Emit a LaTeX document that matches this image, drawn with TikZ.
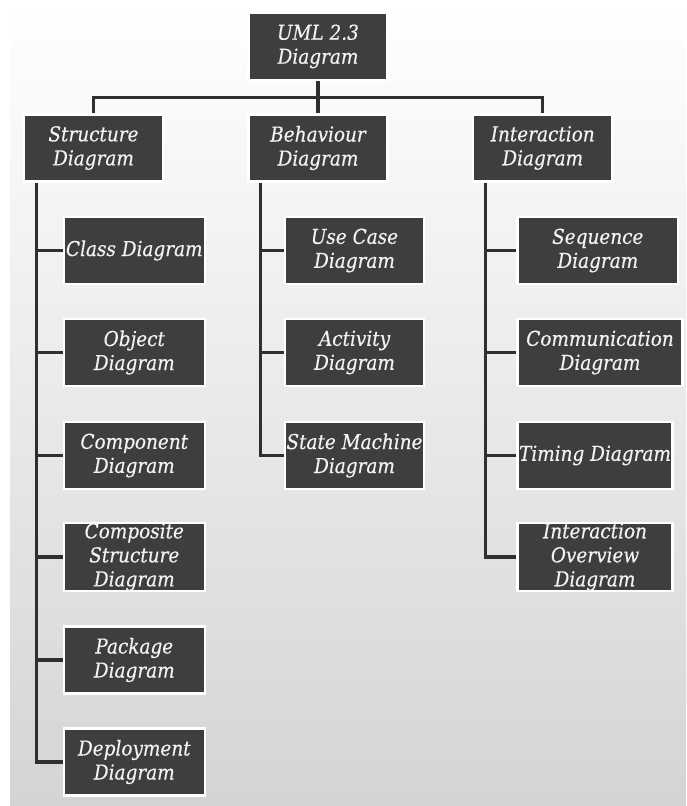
\documentclass[tikz,border=0pt]{standalone}
\usepackage{fontspec}
\setmainfont{DejaVu Serif}[FakeStretch=0.9, FakeBold=0.4]
\usetikzlibrary{positioning}
\definecolor{boxgray}{HTML}{3E3E3E}
\definecolor{boxtext}{HTML}{F2F2F2}
\definecolor{wire}{HTML}{2F2F2F}
\definecolor{bgbottom}{HTML}{D4D4D4}
\tikzset{
  umlbox/.style={draw=white, line width=2.4pt, fill=boxgray, text=boxtext,
    font=\itshape\fontsize{20.5}{24}\selectfont, align=center, inner sep=0pt,
    minimum height=67pt, minimum width=#1},
  umlbox/.default=139pt,
  wireline/.style={draw=wire, line width=3.2pt, line join=miter}
}
\begin{document}
\begin{tikzpicture}[x=1pt, y=-1pt]
  % page and shaded backdrop
  \useasboundingbox (0,0) rectangle (686,806);
  \fill[white] (0,0) rectangle (686,806);
  \shade[top color=white, bottom color=bgbottom] (10,0) rectangle (686,806);

  % root and the three families
  \node[umlbox] (uml) at (318,46.4) {UML 2.3\\Diagram};
  \node[umlbox] (str) at (93.5,148) {Structure\\Diagram};
  \node[umlbox] (beh) at (318,148) {Behaviour\\Diagram};
  \node[umlbox] (int) at (542.7,148) {Interaction\\Diagram};

  % structure diagrams
  \node[umlbox=141pt] (cls) at (134.3,250.5) {Class Diagram};
  \node[umlbox=141pt] (obj) at (134.3,352.5) {Object\\Diagram};
  \node[umlbox=141pt] (cmp) at (134.3,455.5) {Component\\Diagram};
  \node[umlbox=141pt] (cst) at (134.3,557) {Composite\\Structure\\Diagram};
  \node[umlbox=141pt] (pkg) at (134.3,660) {Package\\Diagram};
  \node[umlbox=141pt] (dep) at (134.3,762) {Deployment\\Diagram};

  % behaviour diagrams
  \node[umlbox] (ucd) at (354.5,250.5) {Use Case\\Diagram};
  \node[umlbox] (act) at (354.5,352.5) {Activity\\Diagram};
  \node[umlbox] (stm) at (354.5,455.5) {State Machine\\Diagram};

  % interaction diagrams
  \node[umlbox=160.4pt] (seq) at (597.8,250.5) {Sequence\\Diagram};
  \node[umlbox=165pt] (com) at (600,352.5) {Communication\\Diagram};
  \node[umlbox=155pt] (tim) at (595,455.5) {Timing Diagram};
  \node[umlbox=155pt] (iod) at (595,557) {Interaction\\Overview\\Diagram};

  % bus from the root to the families
  \coordinate (bus) at (318,97.7);
  \draw[wireline] (str.north) |- (bus) -| (int.north);
  \draw[wireline] (uml.south) -- (beh.north);

  % trunks down each family
  \coordinate (strT) at (36.3,0);
  \coordinate (behT) at (260.7,0);
  \coordinate (intT) at (485.6,0);
  \draw[wireline] (str.south -| strT) |- (dep.west);
  \draw[wireline] (beh.south -| behT) |- (stm.west);
  \draw[wireline] (int.south -| intT) |- (iod.west);

  % branches off the trunks
  \foreach \n in {cls,obj,cmp,cst,pkg}
    \draw[wireline] (\n.west -| strT) -- (\n.west);
  \foreach \n in {ucd,act}
    \draw[wireline] (\n.west -| behT) -- (\n.west);
  \foreach \n in {seq,com,tim}
    \draw[wireline] (\n.west -| intT) -- (\n.west);
\end{tikzpicture}
\end{document}
